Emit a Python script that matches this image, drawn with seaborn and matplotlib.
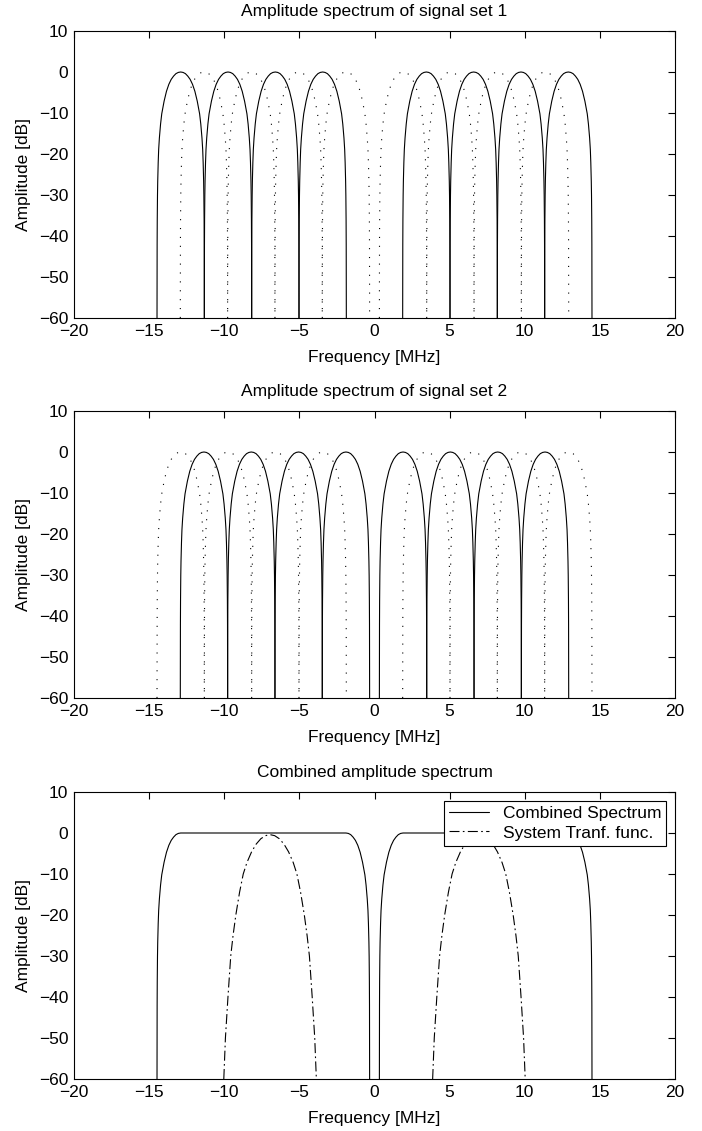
import numpy as np
import pandas as pd
import matplotlib
matplotlib.use("Agg")
import matplotlib.pyplot as plt
import seaborn as sns

# ---------------- data ----------------
freq_ticks = [-20, -15, -10, -5, 0, 5, 10, 15, 20]
db_ticks = [-60, -50, -40, -30, -20, -10, 0, 10]

# sub-band centre frequencies [MHz]
set_a_centres = [-12.9, -9.75, -6.6, -3.45, 3.45, 6.6, 9.75, 12.9]
set_b_centres = [-11.35, -8.2, -5.05, -1.9, 1.9, 5.05, 8.2, 11.35]
lobe_half_width = 1.575  # MHz

# lobe profile: offset from centre (fraction of half width) -> amplitude [dB]
lobe_offset = [0.0, 0.1, 0.2, 0.3, 0.4, 0.5, 0.6, 0.7, 0.8, 0.85, 0.9,
               0.93, 0.95, 0.97, 0.98, 0.99, 0.995, 1.0]
lobe_db = [0.0, -0.1, -0.4, -1.0, -1.8, -3.0, -4.7, -7.1, -10.2, -12.7,
           -16.1, -18.9, -22.1, -26.6, -30.1, -36.1, -42.1, -60.0]

# combined spectrum: flat-top spans [MHz] (between outermost lobe peaks)
combined_spans = [(-12.9, -1.9), (1.9, 12.9)]

# system transfer function lobes
sys_centres = [-6.95, 6.95]
sys_half_width = 3.08
sys_offset = [0.0, 0.1, 0.2, 0.3, 0.4, 0.5, 0.58, 0.66, 0.74, 0.8, 0.85,
              0.91, 0.965, 1.0]
sys_db = [-0.4, -0.65, -1.4, -2.7, -4.6, -7.2, -10.0, -14.5, -20.0, -25.0,
          -30.0, -40.0, -50.0, -60.0]

titles = ["Amplitude spectrum of signal set 1",
          "Amplitude spectrum of signal set 2",
          "Combined amplitude spectrum"]
legend_labels = ["Combined Spectrum", "System Tranf. func."]


# ---------------- helpers ----------------
def lobe(centre, hw, offs, dbs):
    offs = np.asarray(offs)
    dbs = np.asarray(dbs)
    u = np.concatenate([-offs[::-1], offs[1:]])
    d = np.concatenate([dbs[::-1], dbs[1:]])
    return centre + u * hw, d


def band(lo, hi, hw, offs, dbs):
    offs = np.asarray(offs)
    dbs = np.asarray(dbs)
    f = np.concatenate([lo - offs[::-1] * hw, hi + offs * hw])
    d = np.concatenate([dbs[::-1], dbs])
    return f, d


def set_frame(solid_centres, dotted_centres):
    rows = []
    k = 0
    for kind, centres in (("solid", solid_centres), ("dotted", dotted_centres)):
        for c in centres:
            f, d = lobe(c, lobe_half_width, lobe_offset, lobe_db)
            rows.append(pd.DataFrame({"freq": f, "db": d, "unit": k, "kind": kind}))
            k += 1
    return pd.concat(rows, ignore_index=True)


def combined_frame():
    rows = []
    k = 0
    for lo, hi in combined_spans:
        f, d = band(lo, hi, lobe_half_width, lobe_offset, lobe_db)
        rows.append(pd.DataFrame({"freq": f, "db": d, "unit": k,
                                  "curve": legend_labels[0]}))
        k += 1
    for c in sys_centres:
        f, d = lobe(c, sys_half_width, sys_offset, sys_db)
        rows.append(pd.DataFrame({"freq": f, "db": d, "unit": k,
                                  "curve": legend_labels[1]}))
        k += 1
    return pd.concat(rows, ignore_index=True)


# ---------------- styling ----------------
sns.set_theme(style="white")
plt.rcParams["font.family"] = ["Liberation Sans", "DejaVu Sans"]
plt.rcParams.update({
    "text.color": "black",
    "axes.labelcolor": "black",
    "xtick.color": "black",
    "ytick.color": "black",
    "axes.edgecolor": "black",
    "axes.linewidth": 0.8,
})
FS = 12.5

fig = plt.figure(figsize=(7.02, 11.31), dpi=100)
W, H = 702.0, 1131.0
left, right = 74 / W, 675 / W
tops = [31, 411, 792]
ax_h = 287
axes = []
for t in tops:
    axes.append(fig.add_axes([left, 1 - (t + ax_h) / H, right - left, ax_h / H]))

dot_dash = (1, 7)
frames = [set_frame(set_a_centres, set_b_centres),
          set_frame(set_b_centres, set_a_centres)]

for ax, df in zip(axes[:2], frames):
    sns.lineplot(data=df, x="freq", y="db", units="unit", estimator=None,
                 style="kind", dashes={"solid": "", "dotted": dot_dash},
                 color="black", linewidth=0.8, sort=False, legend=False, ax=ax)

dfc = combined_frame()
sns.lineplot(data=dfc, x="freq", y="db", units="unit", estimator=None,
             style="curve",
             dashes={legend_labels[0]: "", legend_labels[1]: (9, 3, 1.5, 3)},
             color="black", linewidth=0.8, sort=False, ax=axes[2])
sns.move_legend(axes[2], "upper right", title=None, frameon=True,
                fancybox=False, edgecolor="black", framealpha=1,
                fontsize=FS, borderaxespad=0.5, handlelength=2.3,
                borderpad=0.3, labelspacing=0.25, handletextpad=0.8)
leg = axes[2].get_legend()
leg.get_frame().set_linewidth(0.8)
for h in leg.legend_handles:
    h.set_color("black")
    h.set_linewidth(0.8)

for ax, title in zip(axes, titles):
    ax.set_xlim(-20, 20)
    ax.set_ylim(-60, 10)
    ax.set_xticks(freq_ticks)
    ax.set_yticks(db_ticks)
    ax.tick_params(direction="in", top=True, right=True, length=5, width=0.8,
                   labelsize=FS)
    ax.tick_params(axis="x", pad=4)
    ax.tick_params(axis="y", pad=4)
    ax.set_xlabel("Frequency [MHz]", fontsize=FS, labelpad=8)
    ax.set_ylabel("Amplitude [dB]", fontsize=FS, labelpad=6)
    ax.set_title(title, fontsize=FS, pad=10.5)
    for s in ax.spines.values():
        s.set_visible(True)
        s.set_color("black")
        s.set_linewidth(0.8)

fig.savefig("out.png", dpi=100)
